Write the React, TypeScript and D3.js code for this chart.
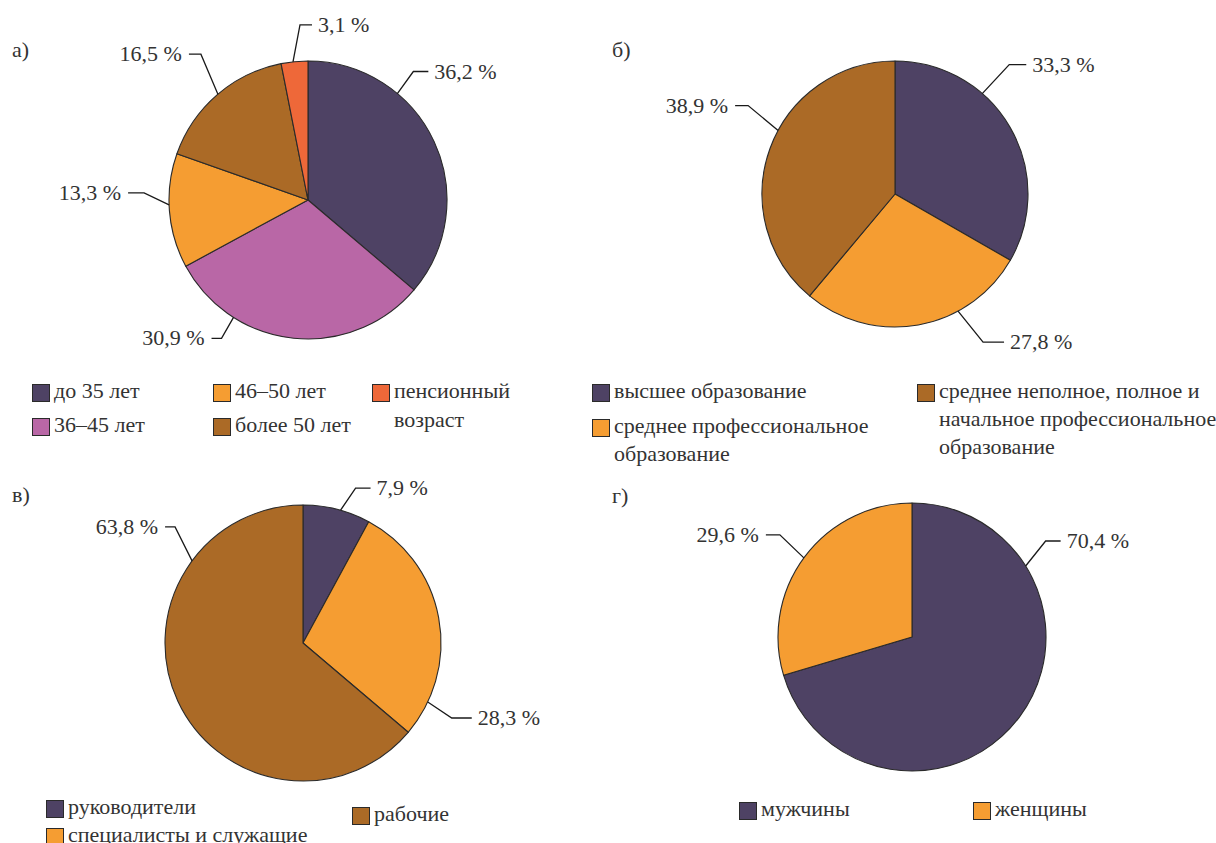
import React from "react";
import * as d3 from "d3";

// ---------- data ----------
const ageCategories = [["до 35 лет"], ["36–45 лет"], ["46–50 лет"], ["более 50 лет"], ["пенсионный", "возраст"]];
const ageValues = [36.2, 30.9, 13.3, 16.5, 3.1];

const eduCategories = [
  ["высшее образование"],
  ["среднее профессиональное", "образование"],
  ["среднее неполное, полное и", "начальное профессиональное", "образование"],
];
const eduValues = [33.3, 27.8, 38.9];

const jobCategories = [["руководители"], ["специалисты и служащие"], ["рабочие"]];
const jobValues = [7.9, 28.3, 63.8];

const sexCategories = [["мужчины"], ["женщины"]];
const sexValues = [70.4, 29.6];

const panelLetters = ["а)", "б)", "в)", "г)"];

// ---------- styles ----------
const PURPLE = "#4e4264";
const PINK = "#b967a6";
const ORANGE = "#f59d32";
const BROWN = "#ab6a26";
const RED = "#ee6839";
const TEXT = "#333333";
const FONT = "Liberation Serif";
const FS = 22;

type LabelLayout = { angle: number; dx: number; dy: number; len: number };
type LegendPos = { x: number; y: number };

type Panel = {
  letter: string;
  letterPos: [number, number];
  cx: number;
  cy: number;
  r: number;
  values: number[];
  categories: string[][];
  colors: string[];
  labels: LabelLayout[];
  legend: LegendPos[];
  lineGap: number;
};

const panels: Panel[] = [
  {
    letter: panelLetters[0],
    letterPos: [12, 57],
    cx: 308,
    cy: 200,
    r: 139,
    values: ageValues,
    categories: ageCategories,
    colors: [PURPLE, PINK, ORANGE, BROWN, RED],
    labels: [
      { angle: 40, dx: 16, dy: -22, len: 15 },
      { angle: 212.4, dx: -12, dy: 21, len: -10 },
      { angle: 268, dx: -25, dy: -12, len: -16 },
      { angle: 319.6, dx: -17, dy: -40, len: -12 },
      { angle: 353.8, dx: 7, dy: -37, len: 12 },
    ],
    legend: [
      { x: 32, y: 384 },
      { x: 32, y: 418 },
      { x: 213, y: 384 },
      { x: 213, y: 418 },
      { x: 372, y: 384 },
    ],
    lineGap: 29,
  },
  {
    letter: panelLetters[1],
    letterPos: [612, 57],
    cx: 895,
    cy: 194,
    r: 133,
    values: eduValues,
    categories: eduCategories,
    colors: [PURPLE, ORANGE, BROWN],
    labels: [
      { angle: 41, dx: 27, dy: -29, len: 17 },
      { angle: 151.7, dx: 25, dy: 31, len: 21 },
      { angle: 298.5, dx: -30, dy: -25, len: -13 },
    ],
    legend: [
      { x: 592, y: 384 },
      { x: 592, y: 419 },
      { x: 917, y: 384 },
    ],
    lineGap: 28,
  },
  {
    letter: panelLetters[2],
    letterPos: [12, 502],
    cx: 303,
    cy: 643,
    r: 138,
    values: jobValues,
    categories: jobCategories,
    colors: [PURPLE, ORANGE, BROWN],
    labels: [
      { angle: 15.8, dx: 15, dy: -22, len: 15 },
      { angle: 115.3, dx: 24, dy: 16, len: 20 },
      { angle: 306.5, dx: -17, dy: -34, len: -10 },
    ],
    legend: [
      { x: 46, y: 800 },
      { x: 46, y: 828 },
      { x: 352, y: 807 },
    ],
    lineGap: 28,
  },
  {
    letter: panelLetters[3],
    letterPos: [612, 503],
    cx: 912,
    cy: 637,
    r: 134,
    values: sexValues,
    categories: sexCategories,
    colors: [PURPLE, ORANGE],
    labels: [
      { angle: 58, dx: 20, dy: -25, len: 15 },
      { angle: 306.2, dx: -24, dy: -23, len: -14 },
    ],
    legend: [
      { x: 739, y: 802 },
      { x: 973, y: 802 },
    ],
    lineGap: 28,
  },
];

const fmt = (v: number) => v.toFixed(1).replace(".", ",") + " %";

function PiePanel({ p }: { p: Panel }) {
  const pie = d3
    .pie<number>()
    .sort(null)
    .value((d) => d)
    .startAngle(0)
    .endAngle(2 * Math.PI);
  const arcs = pie(p.values);
  const arc = d3.arc<d3.PieArcDatum<number>>().innerRadius(0).outerRadius(p.r);
  const box = 17;

  return (
    <g>
      <text x={p.letterPos[0]} y={p.letterPos[1]}>{p.letter}</text>
      <g transform={`translate(${p.cx},${p.cy})`}>
        {arcs.map((a, i) => (
          <path key={i} d={arc(a) || ""} fill={p.colors[i]} stroke="#2a2a2a" strokeWidth={1.1} strokeLinejoin="round" />
        ))}
      </g>
      {p.labels.map((l, i) => {
        const th = (l.angle * Math.PI) / 180;
        const ax = p.cx + p.r * Math.sin(th);
        const ay = p.cy - p.r * Math.cos(th);
        const ex = ax + l.dx;
        const ey = ay + l.dy;
        const hx = ex + l.len;
        const right = l.len > 0;
        return (
          <g key={i}>
            <polyline points={`${ax},${ay} ${ex},${ey} ${hx},${ey}`} fill="none" stroke="#1a1a1a" strokeWidth={1.3} />
            <text x={right ? hx + 6 : hx - 7} y={ey + 7} textAnchor={right ? "start" : "end"}>
              {fmt(p.values[i])}
            </text>
          </g>
        );
      })}
      {p.legend.map((pos, i) => (
        <g key={i}>
          <rect x={pos.x + 0.5} y={pos.y + 0.5} width={box} height={box} fill={p.colors[i]} stroke="#2a2a2a" strokeWidth={1} />
          {p.categories[i].map((line, j) => (
            <text key={j} x={pos.x + box + 5} y={pos.y + 14 + j * p.lineGap}>
              {line}
            </text>
          ))}
        </g>
      ))}
    </g>
  );
}

export default function App() {
  return (
    <svg
      width={1216}
      height={843}
      fontFamily={FONT}
      fontSize={FS}
      fill={TEXT}
      style={{ position: "absolute", left: 0, top: 0, background: "#ffffff", fontFamily: FONT }}
    >
      <rect width={1216} height={843} fill="#ffffff" />
      {panels.map((p, i) => (
        <PiePanel key={i} p={p} />
      ))}
    </svg>
  );
}
